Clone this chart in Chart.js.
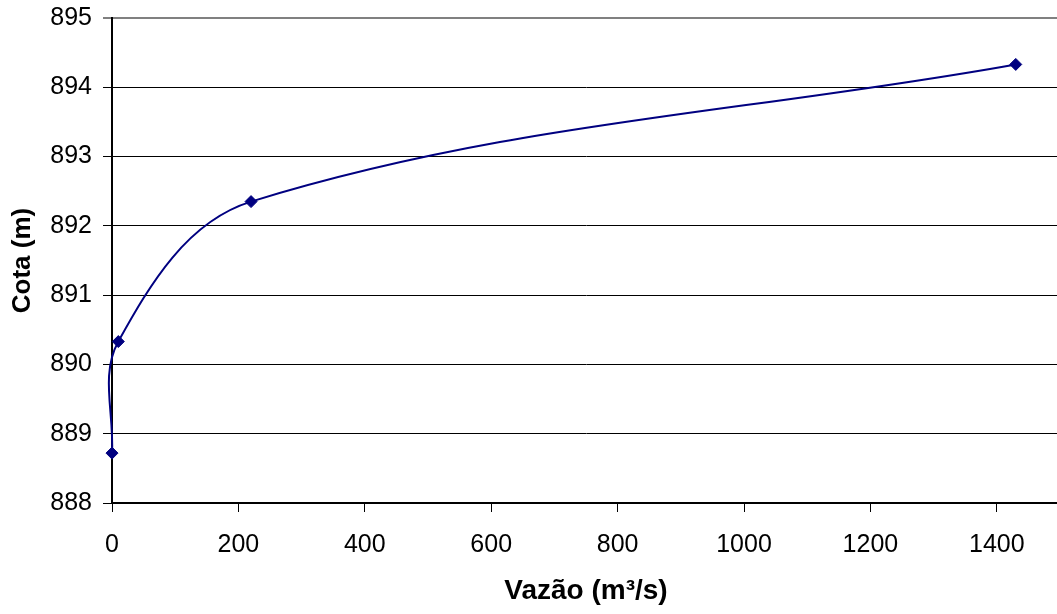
<!DOCTYPE html>
<html>
<head>
<meta charset="utf-8">
<title>Curva cota x vazão</title>
<script src="https://cdn.jsdelivr.net/npm/chart.js@4/dist/chart.umd.min.js"></script>
<style>
  html, body { margin: 0; padding: 0; background: #fff; overflow: hidden; }
  canvas { display: block; }
</style>
</head>
<body>
<canvas id="curva" width="1060" height="614"></canvas>
<script>
/* ================= DADOS ================= */
const vazao = [0, 10, 220, 1430];             // m3/s
const cota = [888.72, 890.33, 892.35, 894.33]; // m

const xMin = 0, xMax = 1500, xStep = 200;
const yMin = 888, yMax = 895, yStep = 1;

const NAVY = "#000080";

Chart.defaults.font.family = '"Liberation Sans", Arial, sans-serif';
Chart.defaults.color = "#000";

/* ================= GRAFICO ================= */
new Chart(document.getElementById("curva"), {
    type: "scatter",
    data: {
        datasets: [{
            data: vazao.map((v, i) => ({ x: v, y: cota[i] })),
            showLine: true,
            tension: 0.36,
            capBezierPoints: false,
            clip: false,
            borderColor: NAVY,
            borderWidth: 2,
            pointStyle: "rectRot",
            pointRadius: 6,
            pointBackgroundColor: NAVY,
            pointBorderColor: NAVY,
            pointBorderWidth: 1
        }]
    },
    options: {
        responsive: false,
        animation: false,
        layout: { autoPadding: false, padding: { top: 18, right: 0, left: 0, bottom: 0 } },
        plugins: {
            legend: { display: false },
            tooltip: { enabled: false }
        },
        scales: {
            x: {
                type: "linear",
                min: xMin,
                max: xMax,
                ticks: {
                    stepSize: xStep,
                    includeBounds: false,
                    padding: 18,
                    font: { size: 25 },
                    maxRotation: 0,
                    callback: (v) => String(v)
                },
                grid: {
                    drawOnChartArea: false,
                    drawTicks: true,
                    tickLength: 9,
                    tickColor: "#000",
                    tickWidth: 1
                },
                border: { color: "#000", width: 2 },
                title: {
                    display: true,
                    text: "Vazão (m³/s)",
                    font: { size: 28, weight: "bold", lineHeight: 1.2 },
                    padding: { top: 0, bottom: 6 }
                },
                afterFit: (scale) => {
                    scale.height = 111;
                    scale.paddingLeft = 0;
                    scale.paddingRight = 0;
                }
            },
            y: {
                min: yMin,
                max: yMax,
                ticks: {
                    stepSize: yStep,
                    padding: 11,
                    font: { size: 25 },
                    callback: (v) => String(v)
                },
                grid: {
                    color: (ctx) => ctx.tick && ctx.tick.value === yMax ? "#808080" : "#000",
                    lineWidth: (ctx) => ctx.tick && ctx.tick.value === yMax ? 2 : 1,
                    tickLength: 9,
                    tickColor: "#000",
                    tickWidth: 1
                },
                border: { color: "#000", width: 2 },
                title: {
                    display: true,
                    text: "Cota (m)",
                    font: { size: 26, weight: "bold", lineHeight: 1.2 },
                    padding: { top: 7, bottom: 0 }
                },
                afterFit: (scale) => {
                    scale.width = 112;
                    scale.paddingTop = 0;
                    scale.paddingBottom = 0;
                }
            }
        }
    }
});
</script>
</body>
</html>
